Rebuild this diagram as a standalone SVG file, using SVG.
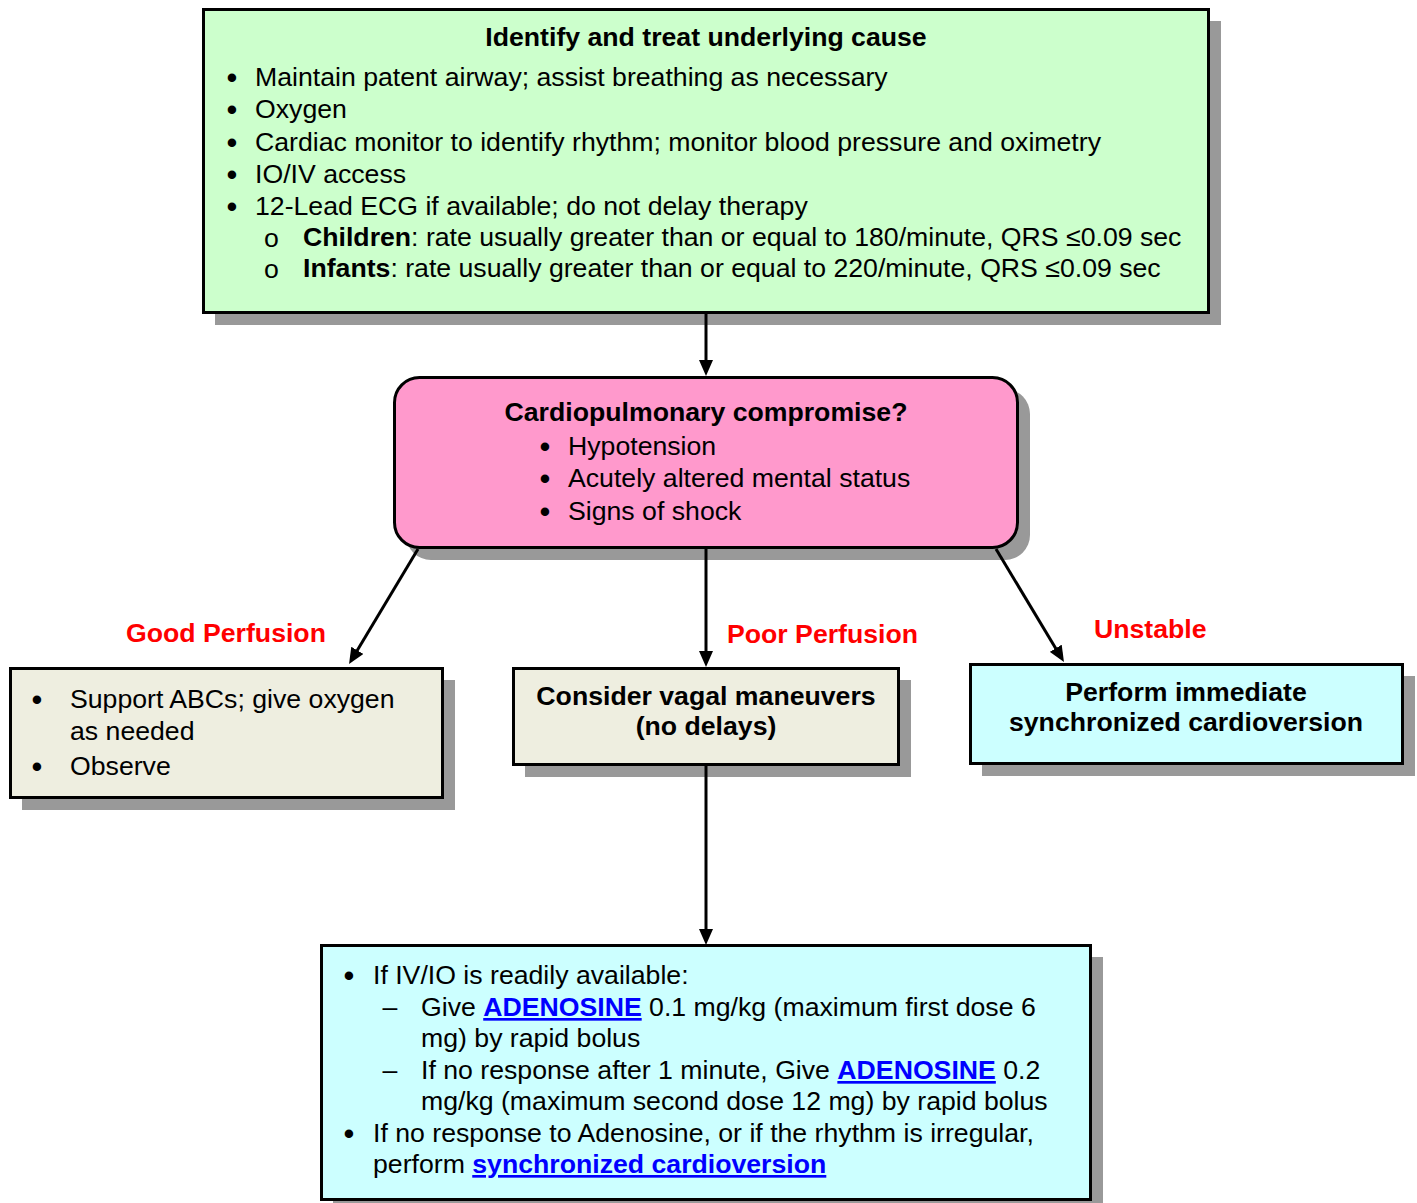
<svg xmlns="http://www.w3.org/2000/svg" width="1417" height="1203" viewBox="0 0 1417 1203">
  <style>
    text { font-family: "Liberation Sans", Arial, sans-serif; font-size: 26.67px; fill: #000; }
    .b { font-weight: bold; }
    .c { text-anchor: middle; }
    .bul { text-anchor: middle; font-size: 31px; }
    .red { fill: #FF0000; font-weight: bold; }
    .link { fill: #0000FF; font-weight: bold; text-decoration: underline; }
    .box { stroke: #000; stroke-width: 3; }
    .shadow { fill: #999999; stroke: none; }
    .conn { stroke: #000; stroke-width: 3; fill: none; marker-end: url(#arrow); }
  </style>
  <defs>
    <marker id="arrow" viewBox="0 0 16 14" refX="6" refY="7" markerWidth="16" markerHeight="14" markerUnits="userSpaceOnUse" orient="auto">
      <path d="M0,0 L16,7 L0,14 z" fill="#000"/>
    </marker>
  </defs>

  <rect width="1417" height="1203" fill="#FFFFFF"/>

  <!-- initial assessment -->
  <g id="identify-cause">
    <rect class="shadow" x="215" y="21" width="1006" height="304"/>
    <rect class="box" x="203.5" y="9.5" width="1005" height="303" fill="#CCFFCC"/>
    <text class="b c" x="706" y="46">Identify and treat underlying cause</text>
    <text class="bul" x="232" y="88">•</text>
    <text x="255" y="86">Maintain patent airway; assist breathing as necessary</text>
    <text class="bul" x="232" y="120">•</text>
    <text x="255" y="118">Oxygen</text>
    <text class="bul" x="232" y="153">•</text>
    <text x="255" y="151">Cardiac monitor to identify rhythm; monitor blood pressure and oximetry</text>
    <text class="bul" x="232" y="185">•</text>
    <text x="255" y="183">IO/IV access</text>
    <text class="bul" x="232" y="217">•</text>
    <text x="255" y="215">12-Lead ECG if available; do not delay therapy</text>
    <text x="264" y="247">o</text>
    <text x="303" y="246"><tspan class="b">Children</tspan>: rate usually greater than or equal to 180/minute, QRS ≤0.09 sec</text>
    <text x="264" y="278">o</text>
    <text x="303" y="277"><tspan class="b">Infants</tspan>: rate usually greater than or equal to 220/minute, QRS ≤0.09 sec</text>
  </g>

  <!-- decision -->
  <g id="compromise">
    <rect class="shadow" x="406" y="389" width="624" height="171" rx="25" ry="25"/>
    <rect class="box" x="394.5" y="377.5" width="623" height="170" rx="25" ry="25" fill="#FF99CC"/>
    <text class="b c" x="706" y="421">Cardiopulmonary compromise?</text>
    <text class="bul" x="545" y="457">•</text>
    <text x="568" y="455">Hypotension</text>
    <text class="bul" x="545" y="489">•</text>
    <text x="568" y="487">Acutely altered mental status</text>
    <text class="bul" x="545" y="522">•</text>
    <text x="568" y="520">Signs of shock</text>
  </g>

  <!-- branch labels -->
  <g id="labels">
    <text class="red" x="126" y="642">Good Perfusion</text>
    <text class="red" x="727" y="643">Poor Perfusion</text>
    <text class="red" x="1094" y="638">Unstable</text>
  </g>

  <!-- good perfusion -->
  <g id="observe">
    <rect class="shadow" x="22" y="680" width="433" height="130"/>
    <rect class="box" x="10.5" y="668.5" width="432" height="129" fill="#EEEEE0"/>
    <text class="bul" x="37" y="710">•</text>
    <text x="70" y="708">Support ABCs; give oxygen</text>
    <text x="70" y="740">as needed</text>
    <text class="bul" x="37" y="777">•</text>
    <text x="70" y="775">Observe</text>
  </g>

  <!-- poor perfusion -->
  <g id="vagal">
    <rect class="shadow" x="525" y="680" width="386" height="97"/>
    <rect class="box" x="513.5" y="668.5" width="385" height="96" fill="#EEEEE0"/>
    <text class="b c" x="706" y="705">Consider vagal maneuvers</text>
    <text class="b c" x="706" y="735">(no delays)</text>
  </g>

  <!-- unstable -->
  <g id="cardioversion">
    <rect class="shadow" x="982" y="676" width="433" height="100"/>
    <rect class="box" x="970.5" y="664.5" width="432" height="99" fill="#CCFFFF"/>
    <text class="b c" x="1186" y="701">Perform immediate</text>
    <text class="b c" x="1186" y="731">synchronized cardioversion</text>
  </g>

  <!-- medication -->
  <g id="adenosine">
    <rect class="shadow" x="333" y="957" width="770" height="256"/>
    <rect class="box" x="321.5" y="945.5" width="769" height="254" fill="#CCFFFF"/>
    <text class="bul" x="349" y="986">•</text>
    <text x="373" y="984">If IV/IO is readily available:</text>
    <text class="c" x="390" y="1016">–</text>
    <text x="421" y="1016">Give <tspan class="link">ADENOSINE</tspan> 0.1 mg/kg (maximum first dose 6</text>
    <text x="421" y="1047">mg) by rapid bolus</text>
    <text class="c" x="390" y="1079">–</text>
    <text x="421" y="1079">If no response after 1 minute, Give <tspan class="link">ADENOSINE</tspan> 0.2</text>
    <text x="421" y="1110">mg/kg (maximum second dose 12 mg) by rapid bolus</text>
    <text class="bul" x="349" y="1144">•</text>
    <text x="373" y="1142">If no response to Adenosine, or if the rhythm is irregular,</text>
    <text x="373" y="1173">perform <tspan class="link">synchronized cardioversion</tspan></text>
  </g>

  <!-- connectors, drawn over the drop shadows -->
  <g id="connectors">
    <path class="conn" d="M706,313 L706,366"/>
    <path class="conn" d="M418,549 L354.2,655.5"/>
    <path class="conn" d="M706,549 L706,657"/>
    <path class="conn" d="M996,549 L1058.8,653.4"/>
    <path class="conn" d="M706,766 L706,935"/>
  </g>
</svg>
